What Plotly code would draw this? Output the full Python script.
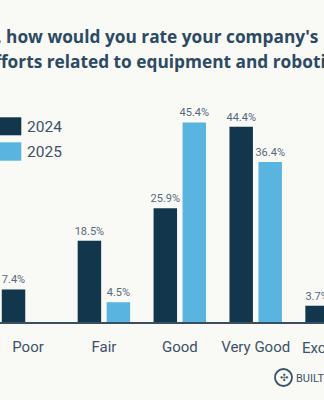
import plotly.graph_objects as go

categories = ["Poor", "Fair", "Good", "Very Good", "Excellent"]
values_2024 = [7.4, 18.5, 25.9, 44.4, 3.7]
values_2025 = [0.0, 4.5, 45.4, 36.4, 13.7]
series_names = ["2024", "2025"]
title_line1 = "Overall, how would you rate your company's"
title_line2 = "efforts related to equipment and robotics?"
watermark = "BUILT IN"

W, H = 324, 400
T, B = 100, 78
PH = H - T - B
BG = "#f9f9f6"
DARK = "#12364b"
LIGHT = "#5ab4e0"
TXT = "#3d5266"
FONT = "Roboto, 'Open Sans', sans-serif"
TFONT = "'Open Sans', Roboto, sans-serif"

x_range = [-0.369, 3.900]
y_range = [0, 50.5]


def px_x(px):
    return px / W


def px_y(py):
    return (H - B - py) / PH


def fmt(v):
    return "" if v == 0 else f"{v:.1f}%"


fig = go.Figure()
for name, vals, col in [(series_names[0], values_2024, DARK), (series_names[1], values_2025, LIGHT)]:
    fig.add_trace(go.Bar(
        x=categories, y=vals, name=name,
        marker=dict(color=col, line=dict(width=0)),
        text=[fmt(v) for v in vals], textposition="outside",
        textfont=dict(family=FONT, size=11, color="#56697b"),
        constraintext="none",
        cliponaxis=True, showlegend=False,
    ))

annotations = [
    dict(text=f"<b>{title_line1}</b>", xref="paper", yref="paper",
         x=px_x(320), y=px_y(36.5), xanchor="right", yanchor="middle", showarrow=False,
         font=dict(family=TFONT, size=17.3, color="#2c4a63")),
    dict(text=f"<b>{title_line2}</b>", xref="paper", yref="paper",
         x=px_x(-18), y=px_y(61), xanchor="left", yanchor="middle", showarrow=False,
         font=dict(family=TFONT, size=17.3, color="#2c4a63")),
    dict(text=series_names[0], xref="paper", yref="paper", x=px_x(25), y=px_y(126.5),
         xanchor="left", yanchor="middle", showarrow=False,
         font=dict(family=FONT, size=15.5, color=TXT)),
    dict(text=series_names[1], xref="paper", yref="paper", x=px_x(25), y=px_y(151.5),
         xanchor="left", yanchor="middle", showarrow=False,
         font=dict(family=FONT, size=15.5, color=TXT)),
    dict(text=categories[4], xref="paper", yref="paper",
         x=(4 - x_range[0]) / (x_range[1] - x_range[0]), y=px_y(348),
         xanchor="center", yanchor="middle", showarrow=False,
         font=dict(family=FONT, size=15, color=TXT)),
    dict(text=watermark, xref="paper", yref="paper", x=px_x(294), y=px_y(378),
         xanchor="left", yanchor="middle", showarrow=False,
         font=dict(family=FONT, size=11, color=TXT)),
    dict(text="✣", xref="paper", yref="paper", x=px_x(283.5), y=px_y(377.5),
         xanchor="center", yanchor="middle", showarrow=False,
         font=dict(family="DejaVu Sans", size=10, color=TXT)),
]

shapes = [
    dict(type="rect", xref="paper", yref="paper", x0=px_x(-5), x1=px_x(21.3),
         y0=px_y(135.3), y1=px_y(117.3), fillcolor=DARK, line=dict(width=0)),
    dict(type="rect", xref="paper", yref="paper", x0=px_x(-5), x1=px_x(21.3),
         y0=px_y(160.7), y1=px_y(142.3), fillcolor=LIGHT, line=dict(width=0)),
    dict(type="circle", xref="paper", yref="paper", x0=px_x(275), x1=px_x(292),
         y0=px_y(386), y1=px_y(369), line=dict(color=TXT, width=1.8)),
]

fig.update_layout(
    width=W, height=H,
    margin=dict(l=0, r=0, t=T, b=B, pad=0, autoexpand=False),
    paper_bgcolor=BG, plot_bgcolor=BG,
    barmode="group", bargap=0.236, bargroupgap=0.19,
    showlegend=False,
    annotations=annotations, shapes=shapes,
    xaxis=dict(range=x_range, showgrid=False, zeroline=False,
               showline=True, linecolor="#3a4e60", linewidth=2,
               ticks="", ticklabelstandoff=10,
               tickfont=dict(family=FONT, size=15, color=TXT)),
    yaxis=dict(range=y_range, visible=False, showgrid=False, zeroline=False),
)

fig.write_html("out.html")
